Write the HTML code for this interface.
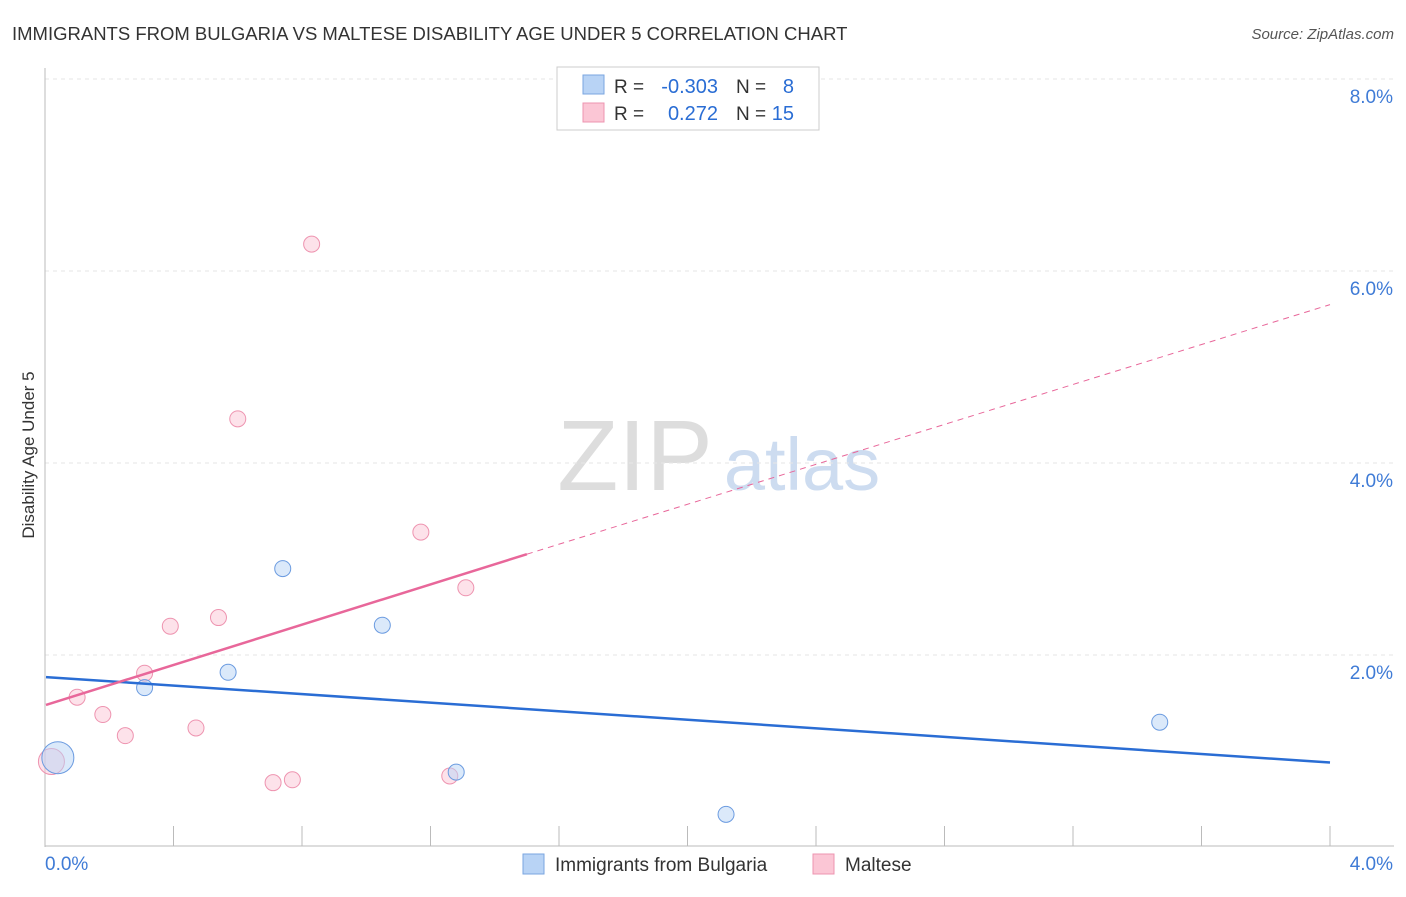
<!DOCTYPE html>
<html><head><meta charset="utf-8"><style>
body{margin:0;background:#fff;font-family:"Liberation Sans",sans-serif}
svg text{font-family:"Liberation Sans",sans-serif}
</style></head><body>
<svg id="chart" width="1406" height="892" xmlns="http://www.w3.org/2000/svg">
<text x="12" y="40" font-size="18.5" fill="#333">IMMIGRANTS FROM BULGARIA VS MALTESE DISABILITY AGE UNDER 5 CORRELATION CHART</text>
<text x="1394" y="39" font-size="15" fill="#555" font-style="italic" text-anchor="end">Source: ZipAtlas.com</text>
<text x="635" y="490" font-size="100" fill="#ddd" font-family="Liberation Serif" text-anchor="middle">ZIP</text>
<text x="802" y="490" font-size="74" fill="#cddcf0" text-anchor="middle">atlas</text>
<text transform="translate(34,455) rotate(-90)" font-size="17" fill="#333" text-anchor="middle">Disability Age Under 5</text>
<g id="grid"></g><g id="marks"></g>
<g>
<rect x="557" y="67" width="262" height="63" fill="#fff" stroke="#ccc"/>
<rect x="583" y="75" width="21" height="19" fill="#b8d3f5" stroke="#7aa6e0"/>
<rect x="583" y="103" width="21" height="19" fill="#fbc6d5" stroke="#ee94b0"/>
<text x="614" y="93" font-size="19" fill="#333">R =</text>
<text x="718" y="93" font-size="20" fill="#2a6dd4" text-anchor="end">-0.303</text>
<text x="736" y="93" font-size="19" fill="#333">N =</text>
<text x="794" y="93" font-size="20" fill="#2a6dd4" text-anchor="end">8</text>
<text x="614" y="120" font-size="19" fill="#333">R =</text>
<text x="718" y="120" font-size="20" fill="#2a6dd4" text-anchor="end">0.272</text>
<text x="736" y="120" font-size="19" fill="#333">N =</text>
<text x="794" y="120" font-size="20" fill="#2a6dd4" text-anchor="end">15</text>
</g>
<g>
<rect x="523" y="854" width="21" height="20" fill="#b8d3f5" stroke="#7aa6e0"/>
<text x="555" y="871" font-size="19" fill="#333">Immigrants from Bulgaria</text>
<rect x="813" y="854" width="21" height="20" fill="#fbc6d5" stroke="#ee94b0"/>
<text x="845" y="871" font-size="19" fill="#333">Maltese</text>
</g>
</svg>
<script>
const yTicks=[2,4,6,8];
const yTickLabels=["2.0%","4.0%","6.0%","8.0%"];
const xTickLabels=["0.0%","4.0%"];
const bulgariaX=[0.04,0.31,0.57,0.74,1.05,1.28,2.12,3.47];
const bulgariaY=[0.93,1.66,1.82,2.90,2.31,0.78,0.34,1.30];
const bulgariaSize=[16,8,8,8,8,8,8,8];
const malteseX=[0.02,0.10,0.18,0.25,0.31,0.39,0.47,0.54,0.60,0.71,0.77,0.83,1.17,1.26,1.31];
const malteseY=[0.89,1.56,1.38,1.16,1.81,2.30,1.24,2.39,4.46,0.67,0.70,6.28,3.28,0.74,2.70];
const malteseSize=[13,8,8,8,8,8,8,8,8,8,8,8,8,8,8];
const blueLine=[[0,1.77],[4,0.88]];
const pinkLine=[[0,1.48],[1.5,3.05],[4,5.65]];
const X=v=>45+v/4*1285, Y=v=>847-v*96;
const ns="http://www.w3.org/2000/svg";
function mk(p,t,a){const e=document.createElementNS(ns,t);for(const k in a)e.setAttribute(k,a[k]);p.appendChild(e);return e;}
const g=document.getElementById('grid'), m=document.getElementById('marks');
yTicks.forEach((t,i)=>{
 const l=mk(g,'line',{x1:45,x2:1394,y1:Y(t),y2:Y(t),stroke:'#e6e6e6','stroke-dasharray':'4,4'});
 
 
 const tx=mk(g,'text',{x:1393,y:Y(t)+24,'font-size':19,fill:'#3f7bd6','text-anchor':'end'});tx.textContent=yTickLabels[i];
 
 
});
mk(g,'line',{x1:45,x2:1394,y1:79,y2:79,stroke:'#e6e6e6','stroke-dasharray':'4,4'});
mk(g,'line',{x1:45,x2:45,y1:68,y2:847,stroke:'#bbb'});
mk(g,'line',{x1:45,x2:1394,y1:846,y2:846,stroke:'#bbb'});
for(let i=1;i<=10;i++){const x=X(i*0.4);const t=mk(g,'line',{x1:x,x2:x,y1:826,y2:846,stroke:'#bbb'});
 
 }
xTickLabels.forEach((s,i)=>{const t=mk(g,'text',{x:i?1393:45,y:870,'font-size':19,fill:'#3f7bd6','text-anchor':i?'end':'start'});t.textContent=s;
 
 });
malteseX.forEach((v,i)=>{const c=mk(m,'circle',{cx:X(v),cy:Y(malteseY[i]),r:malteseSize[i],fill:'#fbc6d5','fill-opacity':0.5,stroke:'#ee94b0'});
 
 });
bulgariaX.forEach((v,i)=>{const c=mk(m,'circle',{cx:X(v),cy:Y(bulgariaY[i]),r:bulgariaSize[i],fill:'#b8d3f5','fill-opacity':0.5,stroke:'#6b9be0'});
 
 });
const bl=mk(m,'line',{x1:X(blueLine[0][0])+1,y1:Y(blueLine[0][1]),x2:X(blueLine[1][0]),y2:Y(blueLine[1][1]),stroke:'#2a6dd4','stroke-width':2.5});


const pl=mk(m,'line',{x1:X(pinkLine[0][0])+1,y1:Y(pinkLine[0][1]),x2:X(pinkLine[1][0]),y2:Y(pinkLine[1][1]),stroke:'#e8679a','stroke-width':2.5});


const pd=mk(m,'line',{x1:X(pinkLine[1][0]),y1:Y(pinkLine[1][1]),x2:X(pinkLine[2][0]),y2:Y(pinkLine[2][1]),stroke:'#e8679a','stroke-width':1,'stroke-dasharray':'6,5'});


</script>
</body></html>
